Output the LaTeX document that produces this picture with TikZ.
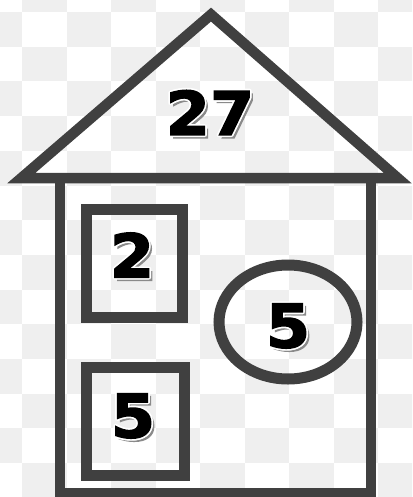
\documentclass[tikz,border=0pt]{standalone}
\usepackage{fontspec}
\newfontfamily\numfont{DejaVu Sans Bold}[FakeBold=2.5,FakeStretch=1.06]
\definecolor{housegray}{HTML}{404040}
\definecolor{bggray}{HTML}{EFEFEF}
\definecolor{shadowgray}{HTML}{8A8A8A}
\tikzset{
  wall/.style={draw=housegray, line width=10.5pt, line join=miter},
  win/.style={draw=housegray, line width=11pt},
  numtxt/.style={inner sep=0pt, font=\numfont\fontsize{60}{60}\selectfont},
}
\newcommand\fancynum[3]{%
  \node[numtxt, text=shadowgray, xshift=3pt, yshift=-3pt] at (#2) {#3};
  \foreach \dx/\dy in {1.7/0,-1.7/0,0/1.7,0/-1.7,1.2/1.2,1.2/-1.2,-1.2/1.2,-1.2/-1.2}{
    \node[numtxt, text=white, xshift=\dx pt, yshift=\dy pt] at (#2) {#3};
  }
  \node[numtxt, text=black] (#1) at (#2) {#3};
}
\begin{document}
\begin{tikzpicture}[x=1pt,y=-1pt]
  \useasboundingbox (0,0) rectangle (412,497);
  \begin{scope}
    \clip (0,0) rectangle (412,497);
    \fill[white] (0,0) rectangle (412,497);
    \foreach \c in {-1,...,8}{
      \foreach \r in {-1,...,13}{
        \pgfmathtruncatemacro\odd{mod(\c+\r+20,2)}
        \ifnum\odd=1
          \fill[bggray] ({22+44.5*\c},{12+34.7*\r}) rectangle ++(44.5,34.7);
        \fi
      }
    }
    % house body
    \draw[wall] (60,178) rectangle (371,493);
    % roof
    \draw[wall] (21.4,178) -- (211,14.6) -- (397.6,178) -- cycle;
    % windows
    \draw[win] (86,209.5) rectangle (182,317);
    \draw[win] (86,367) rectangle (184,475);
    \draw[win] (288,322) ellipse [x radius=69, y radius=57];
  \end{scope}
  \fancynum{roofnum}{210,112.5}{27}
  \fancynum{winA}{132,255}{2}
  \fancynum{winB}{133,416}{5}
  \fancynum{circ}{288,326}{5}
\end{tikzpicture}
\end{document}
